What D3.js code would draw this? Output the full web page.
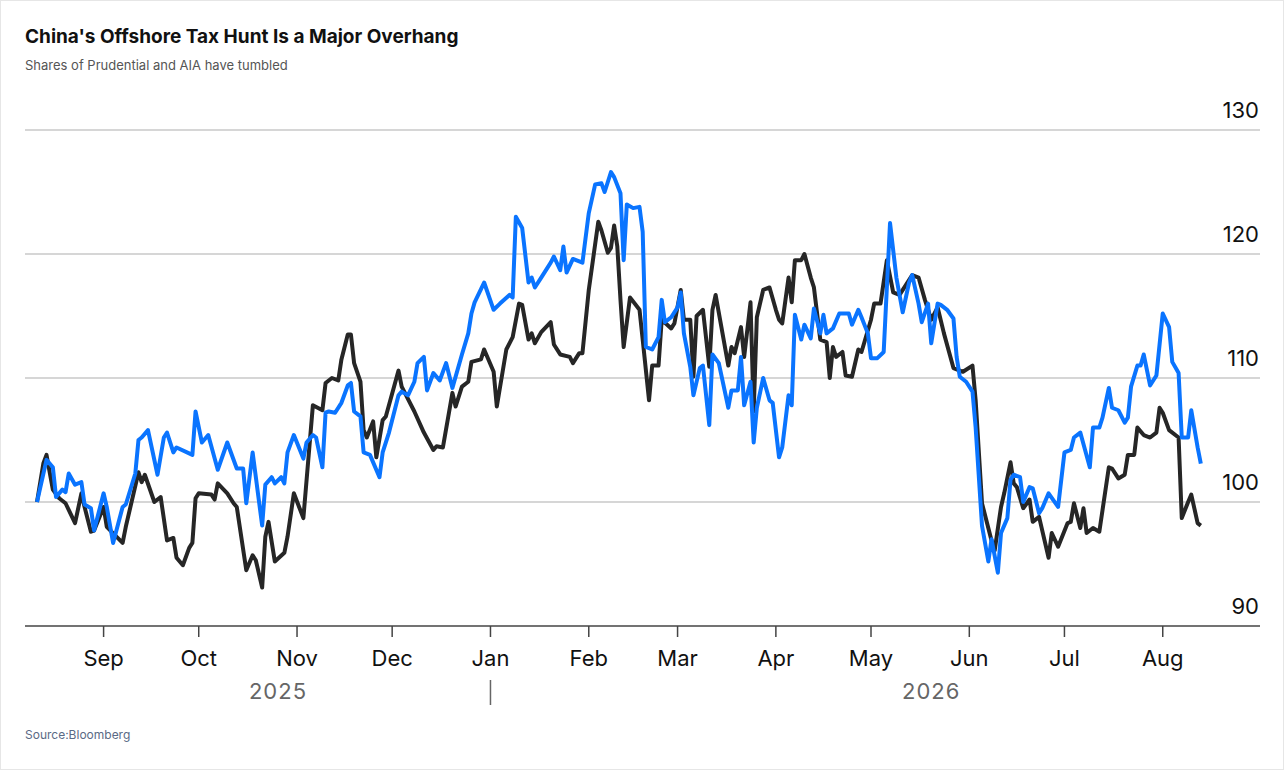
<!DOCTYPE html>
<html><head><meta charset="utf-8">
<script src="https://cdn.jsdelivr.net/npm/d3@7"></script>
<style>body{margin:0;background:#fff;font-family:Inter,"Noto Sans",sans-serif}</style>
</head><body><svg id="c" width="1284" height="770"></svg>
<script>
const startDate = "2025-08-11";
const blackDays = [0,2,3,5,7,9,12,14,15,17,18,21,22,27,28,32,33,34,37,39,41,43,44,46,48,49,50,51,55,56,57,60,62,63,66,68,69,71,72,73,75,78,79,81,84,87,90,91,93,95,96,98,99,100,102,103,104,106,107,109,110,114,115,119,122,125,126,128,131,132,134,136,137,140,141,144,145,148,150,152,153,155,156,157,159,162,163,165,168,169,171,172,174,177,178,180,181,182,183,184,185,187,190,191,193,194,196,197,200,201,203,204,206,207,208,210,212,213,214,218,219,220,222,223,225,226,227,229,231,233,234,235,237,238,239,241,242,244,245,247,249,250,251,252,254,255,257,259,260,263,264,266,268,270,272,276,278,280,282,284,286,289,292,295,296,298,301,302,304,305,307,308,309,311,313,314,316,319,320,322,325,326,327,329,330,331,333,335,338,339,341,343,344,346,347,349,351,353,354,355,357,360,361,363,364,366,367];
const blackValues = [100,103.1,103.8,101.0,100.3,99.9,98.3,100.7,99.6,97.6,97.7,99.6,98.0,96.7,98.0,102.4,101.6,102.2,100.0,100.4,96.9,97.1,95.5,94.9,96.3,96.7,100.3,100.7,100.6,100.2,101.5,100.7,99.9,99.6,94.5,95.7,95.3,93.1,97.2,98.4,95.2,95.9,97.2,100.7,98.7,107.8,107.4,109.6,110.0,109.8,111.5,113.5,113.5,111.2,109.7,105.8,105.2,106.5,103.6,106.6,106.9,110.6,109.3,107.3,105.6,104.2,104.5,104.4,108.8,107.7,109.3,109.7,111.3,111.5,112.3,110.5,107.7,112.3,113.3,116.0,115.9,113.1,113.6,112.8,113.7,114.5,112.7,111.9,111.7,111.2,112.0,112.0,117.1,122.6,121.9,120.1,120.5,122.3,120.6,116.3,112.5,116.5,115.5,113.1,108.2,111.0,111.0,114.7,114.0,114.4,117.1,114.7,114.7,110.1,115.0,115.5,110.9,115.5,116.7,111.0,112.5,112.0,114.1,111.7,116.1,107.3,114.9,117.1,117.3,115.5,114.7,114.4,118.1,116.1,119.5,119.5,120.0,118.1,117.3,113.1,112.9,110.0,112.5,111.7,112.1,110.2,110.1,112.3,112.1,114.7,116.0,116.0,119.5,116.9,116.7,118.3,118.1,116.3,114.7,115.7,113.6,110.8,110.5,111.0,108.2,99.9,96.9,96.1,99.6,100.7,103.2,101.5,101.2,99.5,100.2,98.4,98.8,95.5,97.5,96.4,98.3,98.4,99.9,97.9,99.5,97.5,97.9,97.6,102.8,102.7,101.9,102.2,103.8,103.8,106.0,105.4,105.2,105.6,107.6,107.2,105.8,105.2,98.7,100.0,100.6,98.3,98.1];
const blueDays = [0,3,5,6,8,9,10,12,14,15,17,18,21,22,24,27,28,31,32,33,35,38,40,41,43,44,49,50,52,54,57,60,63,65,66,68,71,72,74,75,77,78,79,81,84,85,87,88,90,91,92,94,96,98,99,100,102,103,105,108,109,111,114,115,117,119,120,122,123,125,127,129,131,134,136,137,138,141,144,146,149,150,151,153,155,156,157,159,160,162,163,165,166,167,169,172,174,176,178,179,181,182,184,185,186,188,190,191,192,194,196,197,198,200,202,203,204,206,207,209,210,212,213,215,218,219,221,222,223,225,226,227,229,231,232,234,235,237,238,239,241,242,244,245,247,248,249,251,253,256,257,259,260,262,263,265,267,269,271,273,275,276,278,279,281,282,284,285,287,289,290,291,293,295,296,298,300,301,303,304,306,307,308,310,311,313,314,316,317,319,322,324,326,327,329,332,333,335,336,338,339,341,343,344,345,347,348,349,351,353,355,357,358,360,361,363,364,366,367];
const blueValues = [100,103.4,102.8,100.4,101.0,100.8,102.3,101.4,101.6,99.8,99.5,97.7,100.7,99.6,96.7,99.6,99.8,102.3,105.0,105.2,105.8,102.2,105.2,105.6,104.0,104.4,103.8,107.3,104.8,105.4,102.6,104.8,102.7,102.7,99.9,104.0,98.1,101.4,102.0,101.5,102.0,101.5,104.0,105.4,103.5,104.8,105.4,105.2,102.8,107.2,107.3,107.2,108.0,109.4,109.6,107.3,106.9,104.0,103.8,102.0,104.0,105.6,108.6,108.9,108.6,109.7,111.2,111.7,109.0,110.4,109.8,111.2,109.2,111.9,113.6,115.2,116.1,117.7,115.5,116.0,116.7,116.5,123.0,122.1,117.7,118.1,117.3,118.1,118.5,119.3,119.8,118.7,120.6,118.5,119.6,119.3,123.3,125.6,125.7,125.0,126.6,126.2,124.9,119.5,124.0,123.7,123.8,121.8,112.5,112.3,113.3,116.3,114.5,114.9,115.7,116.9,113.6,110.9,108.6,110.8,111.0,106.2,111.9,111.2,107.6,109.0,109.0,111.7,107.8,109.7,104.8,107.6,110.0,108.2,108.0,103.6,104.4,108.6,107.8,115.1,113.1,114.3,113.2,115.6,113.6,115.1,113.6,114.0,115.2,115.2,114.3,115.5,114.9,113.6,111.6,111.6,112.1,122.5,118.1,115.3,117.7,118.3,116.0,114.5,116.0,112.8,116.0,115.9,115.5,114.8,111.7,110.1,109.7,108.9,106.0,98.1,95.2,97.0,94.3,97.5,98.7,101.8,102.2,102.0,100.0,101.2,101.1,99.1,99.5,100.7,99.6,104.0,104.2,105.2,105.6,102.8,106.0,106.0,106.8,109.2,107.6,107.4,106.4,106.8,109.3,111.0,111.0,111.9,109.4,110.2,115.2,114.1,111.3,110.4,105.2,105.2,107.4,104.4,103.1];
const yTicks = [90,100,110,120,130];
const years = [{label:"2025", date:"2025-10-26"},{label:"2026", date:"2026-05-20"}];

const parse = d3.utcParse("%Y-%m-%d");
const t0 = parse(startDate);
const mk = (days, vals) => days.map((d,i)=>({date:d3.utcDay.offset(t0,d), v:vals[i]}));
const black = mk(blackDays, blackValues), blue = mk(blueDays, blueValues);

const svg = d3.select("#c");
svg.append("rect").attr("x",0.5).attr("y",0.5).attr("width",1283).attr("height",769).attr("fill","#fff").attr("stroke","#e6e6e6");
const x = d3.scaleUtc().domain([t0, d3.utcDay.offset(t0,367)]).range([37,1200.8]);
const y = d3.scaleLinear().domain([90,130]).range([626,130]);

svg.append("text").attr("x",25).attr("y",43).attr("font-size",19).attr("font-weight",700).attr("fill","#111").text("China's Offshore Tax Hunt Is a Major Overhang");
svg.append("text").attr("x",25).attr("y",70).attr("font-size",13).attr("fill","#555").text("Shares of Prudential and AIA have tumbled");
svg.append("text").attr("x",25).attr("y",739).attr("font-size",12).attr("fill","#5a6a85").text("Source:Bloomberg");

const g = svg.append("g");
yTicks.forEach(t=>{
  if(t>90) g.append("line").attr("x1",25).attr("x2",1260).attr("y1",y(t)).attr("y2",y(t)).attr("stroke","#c8c8c8").attr("stroke-width",1.5);
  g.append("text").attr("x",1259).attr("y",y(t)-12).attr("text-anchor","end").attr("font-size",22).attr("fill","#111").text(t);
});
g.append("line").attr("x1",25).attr("x2",1260).attr("y1",626).attr("y2",626).attr("stroke","#444").attr("stroke-width",1.5);
const months = d3.utcMonth.range(parse("2025-09-01"), parse("2026-08-02"));
months.forEach(m=>{
  g.append("line").attr("x1",x(m)).attr("x2",x(m)).attr("y1",626).attr("y2",637).attr("stroke","#444").attr("stroke-width",1.5);
  g.append("text").attr("x",x(m)).attr("y",666).attr("text-anchor","middle").attr("font-size",22).attr("fill","#111").text(d3.utcFormat("%b")(m));
});
years.forEach(yr=>g.append("text").attr("x",x(parse(yr.date))).attr("y",699).attr("text-anchor","middle").attr("font-size",22).attr("fill","#666").attr("letter-spacing",1).text(yr.label));
g.append("line").attr("x1",x(parse("2026-01-01"))).attr("x2",x(parse("2026-01-01"))).attr("y1",680).attr("y2",705).attr("stroke","#666").attr("stroke-width",1.5);

const line = d3.line().x(d=>x(d.date)).y(d=>y(d.v)).curve(d3.curveLinear);
g.append("path").datum(black).attr("d",line).attr("fill","none").attr("stroke","#262626").attr("stroke-width",4).attr("stroke-linejoin","round");
g.append("path").datum(blue).attr("d",line).attr("fill","none").attr("stroke","#0a74ff").attr("stroke-width",4).attr("stroke-linejoin","round");
</script></body></html>
